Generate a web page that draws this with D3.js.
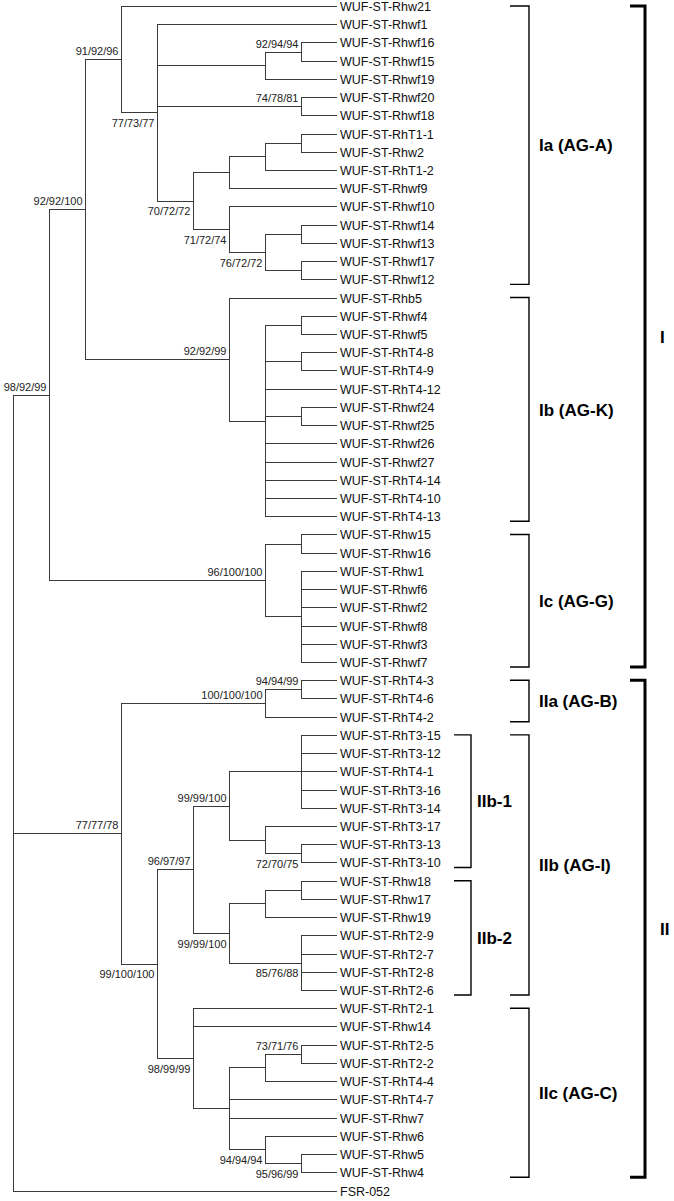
<!DOCTYPE html>
<html>
<head>
<meta charset="utf-8">
<script src="https://cdn.jsdelivr.net/npm/d3@7"></script>
<style>
  html, body { margin: 0; padding: 0; background: #fff; }
  svg { display: block; }
</style>
</head>
<body>
<div id="chart"></div>
<script>
// ---------------- DATA ----------------
// Tree topology (Newick); internal node names are bootstrap supports
const cladeIa = "(WUF-ST-Rhw21,(WUF-ST-Rhwf1,((WUF-ST-Rhwf16,WUF-ST-Rhwf15)92/94/94,WUF-ST-Rhwf19),(WUF-ST-Rhwf20,WUF-ST-Rhwf18)74/78/81,((((WUF-ST-RhT1-1,WUF-ST-Rhw2),WUF-ST-RhT1-2),WUF-ST-Rhwf9),(WUF-ST-Rhwf10,((WUF-ST-Rhwf14,WUF-ST-Rhwf13),(WUF-ST-Rhwf17,WUF-ST-Rhwf12))76/72/72)71/72/74)70/72/72)77/73/77)91/92/96";
const cladeIb = "(WUF-ST-Rhb5,((WUF-ST-Rhwf4,WUF-ST-Rhwf5),(WUF-ST-RhT4-8,WUF-ST-RhT4-9),WUF-ST-RhT4-12,(WUF-ST-Rhwf24,WUF-ST-Rhwf25),WUF-ST-Rhwf26,WUF-ST-Rhwf27,WUF-ST-RhT4-14,WUF-ST-RhT4-10,WUF-ST-RhT4-13))92/92/99";
const cladeIc = "((WUF-ST-Rhw15,WUF-ST-Rhw16),(WUF-ST-Rhw1,WUF-ST-Rhwf6,WUF-ST-Rhwf2,WUF-ST-Rhwf8,WUF-ST-Rhwf3,WUF-ST-Rhwf7))96/100/100";
const cladeIIa = "((WUF-ST-RhT4-3,WUF-ST-RhT4-6)94/94/99,WUF-ST-RhT4-2)100/100/100";
const cladeIIb1 = "((WUF-ST-RhT3-15,WUF-ST-RhT3-12,WUF-ST-RhT4-1,WUF-ST-RhT3-16,WUF-ST-RhT3-14),(WUF-ST-RhT3-17,(WUF-ST-RhT3-13,WUF-ST-RhT3-10)72/70/75))99/99/100";
const cladeIIb2 = "(((WUF-ST-Rhw18,WUF-ST-Rhw17),WUF-ST-Rhw19),(WUF-ST-RhT2-9,WUF-ST-RhT2-7,WUF-ST-RhT2-8,WUF-ST-RhT2-6)85/76/88)99/99/100";
const cladeIIc = "(WUF-ST-RhT2-1,WUF-ST-Rhw14,(((WUF-ST-RhT2-5,WUF-ST-RhT2-2)73/71/76,WUF-ST-RhT4-4),WUF-ST-RhT4-7,WUF-ST-Rhw7,(WUF-ST-Rhw6,(WUF-ST-Rhw5,WUF-ST-Rhw4)95/96/99)94/94/94))98/99/99";
const cladeI = "((" + cladeIa + "," + cladeIb + ")92/92/100," + cladeIc + ")98/92/99";
const cladeII = "(" + cladeIIa + ",((" + cladeIIb1 + "," + cladeIIb2 + ")96/97/97," + cladeIIc + ")99/100/100)77/77/78";
const treeNewick = "(" + cladeI + "," + cladeII + ",FSR-052)";

// Clade brackets
const groupNames = ["Ia (AG-A)", "Ib (AG-K)", "Ic (AG-G)", "IIa (AG-B)", "IIb (AG-I)", "IIc (AG-C)"];
const groupFirst = ["WUF-ST-Rhw21", "WUF-ST-Rhb5", "WUF-ST-Rhw15", "WUF-ST-RhT4-3", "WUF-ST-RhT3-15", "WUF-ST-RhT2-1"];
const groupLast  = ["WUF-ST-Rhwf12", "WUF-ST-RhT4-13", "WUF-ST-Rhwf7", "WUF-ST-RhT4-2", "WUF-ST-RhT2-6", "WUF-ST-Rhw4"];
const subNames = ["IIb-1", "IIb-2"];
const subFirst = ["WUF-ST-RhT3-15", "WUF-ST-Rhw18"];
const subLast  = ["WUF-ST-RhT3-10", "WUF-ST-RhT2-6"];
const majorNames = ["I", "II"];
const majorFirst = ["WUF-ST-Rhw21", "WUF-ST-RhT4-3"];
const majorLast  = ["WUF-ST-Rhwf7", "WUF-ST-Rhw4"];

// ---------------- PARSE ----------------
function parseNewick(s) {
  let i = 0;
  function node() {
    const n = {};
    if (s[i] === "(") {
      i++;
      n.children = [node()];
      while (s[i] === ",") { i++; n.children.push(node()); }
      i++; // ')'
    }
    let name = "";
    while (i < s.length && !"(),".includes(s[i])) name += s[i++];
    n.name = name;
    return n;
  }
  return node();
}

const W = 674, H = 1201;
const root = d3.hierarchy(parseNewick(treeNewick));
const leaves = root.leaves();

const y = d3.scaleLinear().domain([0, leaves.length - 1]).range([6.5, 1191]);
const x = d3.scaleLinear().domain([root.height, 0]).range([13, 337]);

leaves.forEach((l, i) => { l.py = y(i); });
root.eachAfter(n => {
  n.px = x(n.height);
  if (n.children) n.py = (n.children[0].py + n.children[n.children.length - 1].py) / 2;
});
const leafY = {};
leaves.forEach(l => { leafY[l.data.name] = l.py; });

const svg = d3.select("#chart").append("svg").attr("width", W).attr("height", H);

const lineColor = "#3a3a3a";
const gTree = svg.append("g").attr("stroke", lineColor).attr("stroke-width", 1).attr("fill", "none")
  .attr("shape-rendering", "crispEdges");

// horizontal branches
gTree.selectAll("line.h").data(root.descendants().filter(d => d.parent)).join("line")
  .attr("class", "h")
  .attr("x1", d => d.parent.px).attr("x2", d => d.px)
  .attr("y1", d => d.py).attr("y2", d => d.py);

// vertical connectors
gTree.selectAll("line.v").data(root.descendants().filter(d => d.children)).join("line")
  .attr("class", "v")
  .attr("x1", d => d.px).attr("x2", d => d.px)
  .attr("y1", d => d.children[0].py).attr("y2", d => d.children[d.children.length - 1].py);

// leaf labels
svg.append("g").selectAll("text").data(leaves).join("text")
  .attr("x", d => d.px + 3)
  .attr("y", d => d.py)
  .attr("dy", "0.36em")
  .attr("font-family", "'Liberation Sans', Arial, sans-serif")
  .attr("font-size", 12.5)
  .attr("fill", "#111")
  .text(d => d.data.name);

// support labels
const supports = root.descendants().filter(d => d.children && d.parent && d.data.name);
svg.append("g").selectAll("text").data(supports).join("text")
  .attr("x", d => d.px - 2.5)
  .attr("y", d => {
    const sib = d.parent.children;
    const below = sib[sib.length - 1] === d && (d.parent.height - d.height) <= 2;
    return below ? d.py + 14 : d.py - 4.5;
  })
  .attr("text-anchor", "end")
  .attr("font-family", "'Liberation Sans', Arial, sans-serif")
  .attr("font-size", 11)
  .attr("fill", "#222")
  .text(d => d.data.name);

// brackets
function bracket(names, firsts, lasts, xTick, xBar, xText, sw) {
  const g = svg.append("g");
  names.forEach((nm, i) => {
    const y0 = leafY[firsts[i]] - 0.5, y1 = leafY[lasts[i]] + 4.5;
    g.append("path")
      .attr("d", `M${xTick},${y0}H${xBar}V${y1}H${xTick}`)
      .attr("fill", "none").attr("stroke", "#000").attr("stroke-width", sw);
    g.append("text")
      .attr("x", xText).attr("y", (y0 + y1) / 2).attr("dy", "0.36em")
      .attr("font-family", "'Liberation Sans', Arial, sans-serif")
      .attr("font-weight", "bold").attr("font-size", 17).attr("fill", "#000")
      .text(nm);
  });
}
bracket(groupNames, groupFirst, groupLast, 510, 529, 539, 1.4);
bracket(subNames, subFirst, subLast, 454, 471, 477, 1.4);
bracket(majorNames, majorFirst, majorLast, 630, 645, 660, 3);
</script>
</body>
</html>
